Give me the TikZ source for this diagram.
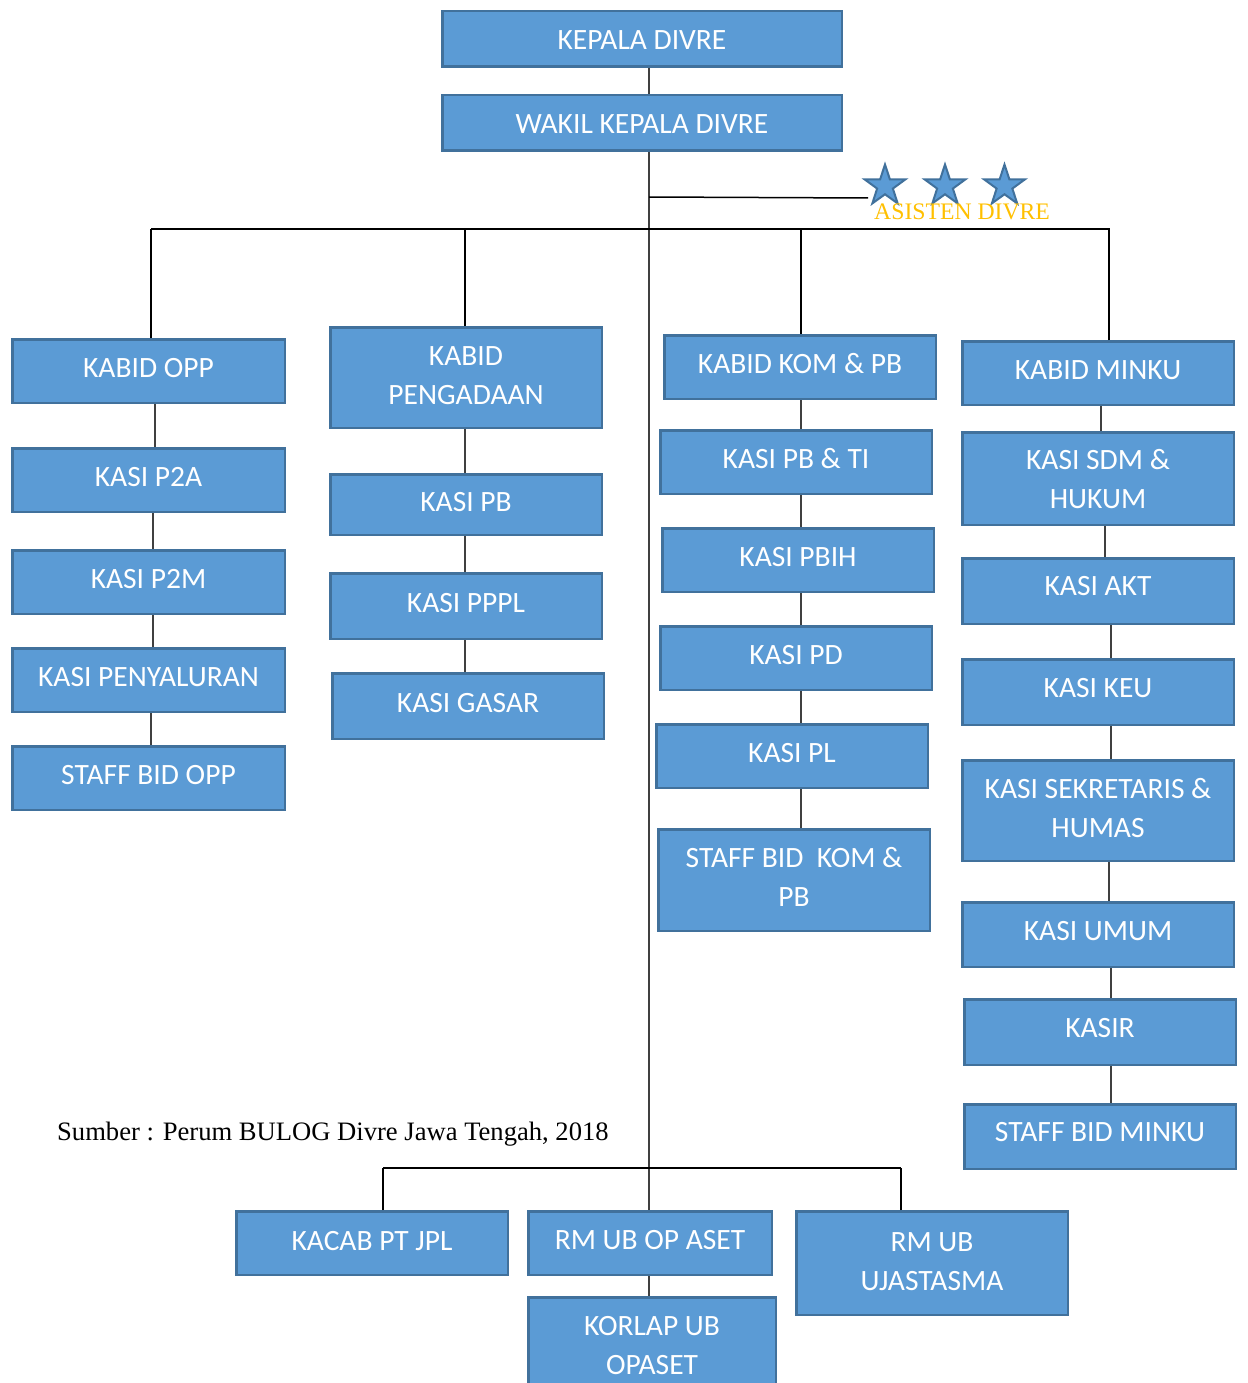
\documentclass[tikz,border=0pt]{standalone}
\usepackage{fontspec}
\setmainfont{Liberation Serif}
\newfontfamily\cbr{Carlito}
\usetikzlibrary{shapes.geometric}
\definecolor{fillc}{HTML}{5B9BD5}
\definecolor{bdr}{HTML}{41719C}
\definecolor{ylw}{HTML}{FFC000}
\definecolor{lnc}{HTML}{404040}
\newcommand\bx[7][1]{\node[box, minimum width={(#5-#3-2.5)*1pt}, minimum height={(#6-#4-2.5)*1pt}] (#2) at ({(#3+#5)/2},{(#4+#6)/2}) {\raisebox{#1pt}[\height][\depth]{\begin{tabular}{@{}c@{}}#7\end{tabular}}};}
\newcommand\cn[3]{\draw[conn] ([xshift=#3pt]#1.south) -- ([xshift=#3pt]#1.south |- #2.north);}
\begin{document}
\begin{tikzpicture}[x=1pt,y=-1pt,
  box/.style={draw=bdr, fill=fillc, line width=2.5pt, text=white, align=center, inner sep=0pt,
    font=\cbr\fontsize{29.5}{39}\selectfont},
  conn/.style={draw=lnc, line width=2pt},
  bus/.style={draw=black, line width=1.5pt},
  starb/.style={star, star points=5, star point ratio=2.6, minimum size=43pt, inner sep=0pt,
    fill=fillc, draw=bdr, line width=2pt}]
\clip (0,0) rectangle (1247,1383);
\fill[white] (0,0) rectangle (1247,1383);
% top
\bx[-3]{kep}{441}{10}{843}{68}{KEPALA DIVRE}
\bx[-3]{wak}{441}{94}{843}{152}{WAKIL KEPALA DIVRE}
% column 1
\bx{opp}{11}{338}{286}{404}{KABID OPP}
\bx{p2a}{11}{447}{286}{513}{KASI P2A}
\bx{p2m}{11}{549}{286}{615}{KASI P2M}
\bx{pny}{11}{647}{286}{713}{KASI PENYALURAN}
\bx{sopp}{11}{745}{286}{811}{STAFF BID OPP}
% column 2
\bx[0]{peng}{329}{326}{603}{429}{KABID\\PENGADAAN}
\bx{kpb}{329}{473}{603}{536}{KASI PB}
\bx{pppl}{329}{572}{603}{640}{KASI PPPL}
\bx{gas}{331}{672}{605}{740}{KASI GASAR}
% column 3
\bx{kom}{663}{334}{937}{400}{KABID KOM \& PB}
\bx{pbti}{659}{429}{933}{495}{KASI PB \& TI}
\bx{pbih}{661}{527}{935}{593}{KASI PBIH}
\bx{pd}{659}{625}{933}{691}{KASI PD}
\bx{pl}{655}{723}{929}{789}{KASI PL}
\bx{skom}{657}{828}{931}{932}{STAFF BID\ \ KOM \&\\PB}
% column 4
\bx{minku}{961}{340}{1235}{406}{KABID MINKU}
\bx[-3]{sdm}{961}{431}{1235}{526}{KASI SDM \&\\HUKUM}
\bx[3]{akt}{961}{557}{1235}{625}{KASI AKT}
\bx[2]{keu}{961}{658}{1235}{726}{KASI KEU}
\bx[0]{sek}{961}{759}{1235}{862}{KASI SEKRETARIS \&\\HUMAS}
\bx[2]{umum}{961}{901}{1235}{968}{KASI UMUM}
\bx[2]{kasir}{963}{998}{1237}{1066}{KASIR}
\bx[3]{smin}{963}{1103}{1237}{1170}{STAFF BID MINKU}
% bottom
\bx[0]{jpl}{235}{1210}{509}{1276}{KACAB PT JPL}
\bx{rmop}{527}{1210}{773}{1276}{RM UB OP ASET}
\bx[0]{uja}{795}{1210}{1069}{1316}{RM UB\\UJASTASMA}
\bx[-2]{korlap}{527}{1296}{777}{1395}{KORLAP UB\\OPASET}
% stars and asisten
\node[starb] (s1) at (885,186) {};
\node[starb] (s2) at (945,186) {};
\node[starb] (s3) at (1004.5,186) {};
\node[anchor=base west, inner sep=0pt, text=ylw, font=\fontsize{23.7}{28}\selectfont] (asis) at (874,219) {ASISTEN DIVRE};
\node[anchor=base west, inner sep=0pt, font=\fontsize{26.6}{30}\selectfont] (src) at (57,1140) {Sumber : Perum BULOG Divre Jawa Tengah, 2018};
% coordinates
\coordinate (busy) at (0,229);
\coordinate (bus2) at (0,1168);
\coordinate (asy) at (0,197);
\coordinate (asend) at (868,198);
% trunk
\draw[conn] ([xshift=7pt]kep.south) -- ([xshift=7pt]kep.south |- wak.north);
\draw[conn] ([xshift=7pt]wak.south) -- ([xshift=7pt]wak.south |- rmop.north);
\draw[line width=1.5pt] ([xshift=7pt]wak.south |- asy) -- (asend);
% main bus
\draw[bus] ([xshift=2.5pt]opp.north |- busy) -- ([xshift=12pt]minku.north |- busy);
\draw[bus] ([xshift=2.5pt]opp.north) -- ([xshift=2.5pt]opp.north |- busy);
\draw[bus] ([xshift=-1pt]peng.north) -- ([xshift=-1pt]peng.north |- busy);
\draw[bus] ([xshift=1pt]kom.north) -- ([xshift=1pt]kom.north |- busy);
\draw[bus] ([xshift=11pt]minku.north) -- ([xshift=11pt]minku.north |- busy);
% column connectors
\cn{opp}{p2a}{6.5}
\cn{p2a}{p2m}{4.5}
\cn{p2m}{pny}{4.5}
\cn{pny}{sopp}{2.5}
\cn{peng}{kpb}{-1}
\cn{kpb}{pppl}{-1}
\cn{pppl}{gas}{-1}
\cn{kom}{pbti}{1}
\cn{pbti}{pbih}{5}
\cn{pbih}{pd}{3}
\cn{pd}{pl}{5}
\cn{pl}{skom}{9}
\cn{minku}{sdm}{3}
\cn{sdm}{akt}{7}
\cn{akt}{keu}{13}
\cn{keu}{sek}{13}
\cn{sek}{umum}{11}
\cn{umum}{kasir}{13}
\cn{kasir}{smin}{11}
\cn{rmop}{korlap}{-1}
% bottom bus
\draw[bus] ([xshift=11pt]jpl.north |- bus2) -- ([xshift=-31pt]uja.north |- bus2);
\draw[bus] ([xshift=11pt]jpl.north) -- ([xshift=11pt]jpl.north |- bus2);
\draw[bus] ([xshift=-31pt]uja.north) -- ([xshift=-31pt]uja.north |- bus2);
\end{tikzpicture}
\end{document}
